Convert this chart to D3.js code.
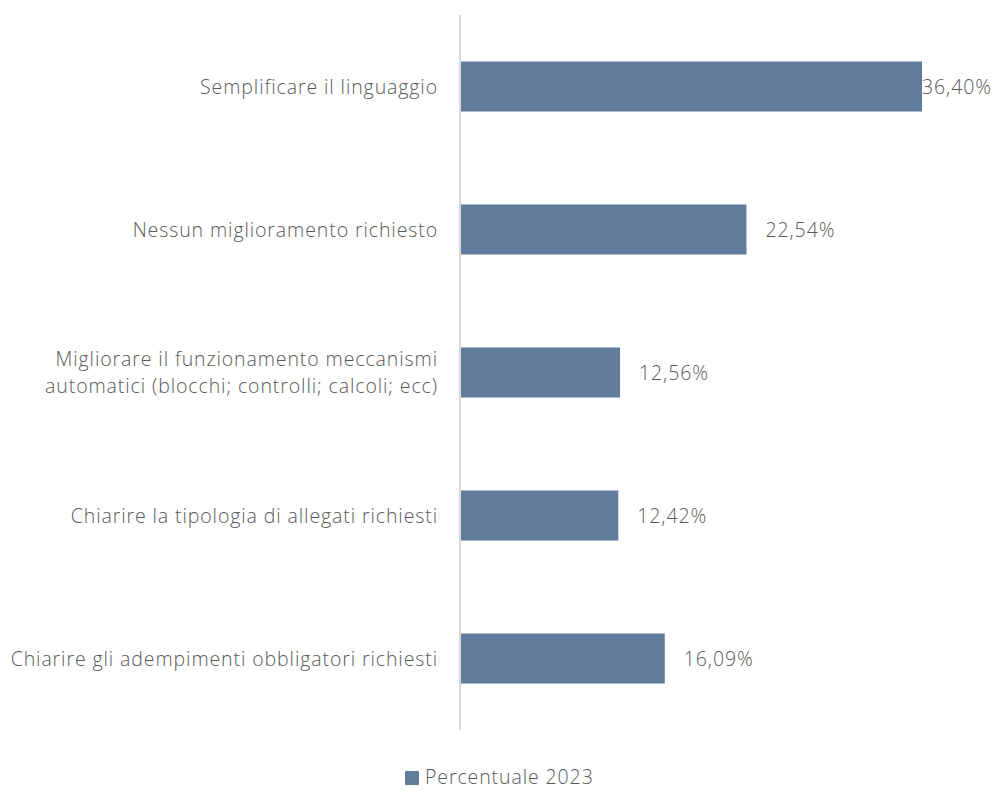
<!DOCTYPE html>
<html>
<head>
<meta charset="utf-8">
<script src="https://cdn.jsdelivr.net/npm/d3@7"></script>
<style>
  html, body { margin: 0; padding: 0; background: #ffffff; }
  svg text { font-family: "Open Sans", Lato, sans-serif; font-weight: 300; fill: #595959; letter-spacing: 0.9px; }
</style>
</head>
<body>
<svg id="chart" width="993" height="790"></svg>
<script>
// Categories (top to bottom) and their 2023 shares
const categories = [
  ["Semplificare il linguaggio"],
  ["Nessun miglioramento richiesto"],
  ["Migliorare il funzionamento meccanismi", "automatici (blocchi; controlli; calcoli; ecc)"],
  ["Chiarire la tipologia di allegati richiesti"],
  ["Chiarire gli adempimenti obbligatori richiesti"]
];
const values = [36.40, 22.54, 12.56, 12.42, 16.09];
const seriesName = "Percentuale 2023";

const W = 993, H = 790;
const margin = { left: 460, right: 72, top: 15, bottom: 60 };
const barColor = "#627c9c";
const fontSize = 19.5;

const svg = d3.select("#chart");

const x = d3.scaleLinear()
  .domain([0, 36.40])
  .range([margin.left, W - margin.right]);

const y = d3.scaleBand()
  .domain(d3.range(categories.length))
  .range([margin.top, H - margin.bottom])
  .paddingInner(0.65)
  .paddingOuter(0.325);

const fmt = v => v.toFixed(2).replace(".", ",") + "%";

// Bars
svg.append("g")
  .selectAll("rect")
  .data(values)
  .join("rect")
  .attr("x", x(0) + 1)
  .attr("y", (d, i) => y(i))
  .attr("width", d => x(d) - x(0))
  .attr("height", y.bandwidth())
  .attr("fill", barColor);

// Vertical category axis line
svg.append("line")
  .attr("x1", x(0)).attr("x2", x(0))
  .attr("y1", margin.top).attr("y2", H - margin.bottom)
  .attr("stroke", "#d9d9d9")
  .attr("stroke-width", 2);

// Category labels
const labels = svg.append("g")
  .selectAll("text")
  .data(categories)
  .join("text")
  .attr("text-anchor", "end")
  .attr("font-size", fontSize)
  .attr("x", x(0) - 22)
  .attr("y", (d, i) => y(i) + y.bandwidth() / 2);

labels.selectAll("tspan")
  .data(d => d.map((t, k) => ({ t, k, n: d.length })))
  .join("tspan")
  .attr("x", x(0) - 22)
  .attr("dy", d => d.k === 0 ? ((-(d.n - 1) * 13.5) + 7) + "px" : "27px")
  .text(d => d.t);

// Value labels
svg.append("g")
  .selectAll("text")
  .data(values)
  .join("text")
  .attr("font-size", fontSize)
  .attr("x", d => Math.min(x(d) + 20, W - 71))
  .attr("y", (d, i) => y(i) + y.bandwidth() / 2 + 7)
  .text(fmt);

// Legend
const lg = svg.append("g");
lg.append("rect")
  .attr("x", 405).attr("y", 771)
  .attr("width", 14).attr("height", 14)
  .attr("fill", barColor);
lg.append("text")
  .attr("x", 425).attr("y", 784)
  .attr("font-size", fontSize)
  .text(seriesName);
</script>
</body>
</html>
